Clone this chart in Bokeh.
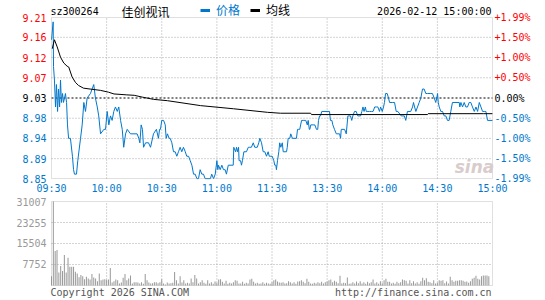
from bokeh.plotting import figure
from bokeh.layouts import column
from bokeh.models import (Range1d, Label, LabelSet, ColumnDataSource,
                          Legend, LegendItem, BoxAnnotation)
from bokeh.core.properties import value
from bokeh.embed import file_html
from bokeh.resources import INLINE

# ---------------- data ----------------
stock_code = "sz300264"
stock_name = "佳创视讯"
timestamp = "2026-02-12 15:00:00"
prev_close = 9.03
pct_limit = 1.99

# minutes since 09:30 (trading minutes, 0..240)
price_t = [0, 0.9, 1.1, 1.6, 2.2, 2.7, 3.3, 3.8, 4.4, 4.9, 5.4, 6.0, 6.5, 7.1, 7.6, 8.2, 8.7, 9.3, 10.3, 11.4,
           12.0, 12.5, 13.6, 14.3, 15.8, 16.7, 17.6, 18.5, 19.4, 21.2, 22.1, 23.0, 23.9, 24.9, 25.7, 26.7, 28.5,
           29.4, 30.3, 31.2, 32.1, 33.0, 33.9, 34.8, 35.8, 36.6, 37.6, 38.5, 39.3, 40.3, 41.2, 43.0, 46.6, 47.5,
           48.1, 48.8, 49.5, 50.1, 51.2, 52.8, 53.9, 55.5, 57.1, 58.2, 58.8, 59.3, 60.0, 61.0, 61.9, 62.4, 63.1,
           64.0, 64.6, 65.5, 66.4, 67.3, 68.2, 69.1, 70.0, 70.9, 71.8, 72.8, 73.6, 74.6, 75.5, 76.4, 77.3, 78.2,
           79.1, 80.0, 80.9, 81.8, 82.7, 83.6, 86.5, 87.2, 88.2, 89.1, 90.0, 90.5, 90.9, 91.8, 92.7, 93.6, 94.5,
           95.2, 96.2, 98.9, 99.2, 100.2, 100.7, 101.2, 101.8, 102.1, 102.9, 103.4, 103.9, 104.7, 106.1, 107.1,
           107.9, 108.8, 109.8, 110.6, 112.0, 112.8, 113.4, 114.3, 115.2, 116.1, 117.0, 117.9, 118.5, 119.4,
           120.1, 121.0, 121.5, 122.1, 122.4, 123.0, 123.7, 124.2, 124.8, 125.6, 126.1, 127.9, 128.3, 128.8,
           129.7, 130.2, 131.1, 133.3, 133.9, 134.6, 135.1, 136.1, 137.0, 137.9, 138.4, 139.2, 139.7, 140.3,
           140.6, 141.1, 142.4, 143.3, 144.2, 144.9, 145.3, 145.9, 146.4, 147.1, 151.3, 151.8, 152.6, 153.1,
           154.0, 155.0, 155.9, 156.8, 157.3, 157.7, 159.5, 160.4, 161.3, 161.8, 162.7, 163.4, 164.0, 164.9,
           165.8, 166.7, 168.2, 168.9, 169.5, 170.1, 170.8, 171.3, 172.2, 173.1, 174.1, 175.0, 175.9, 176.8,
           177.6, 178.5, 179.1, 180.0, 180.7, 181.2, 181.8, 182.7, 183.4, 184.0, 185.7, 186.7, 187.6, 188.5,
           190.3, 191.2, 192.0, 192.8, 193.7, 195.5, 196.5, 197.0, 197.6, 198.3, 199.2, 200.1, 201.0, 201.9,
           202.8, 203.7, 204.6, 206.4, 207.3, 208.3, 209.1, 209.7, 210.1, 210.5, 211.0, 211.9, 212.8, 213.7,
           214.6, 215.5, 216.4, 217.3, 218.2, 221.9, 222.2, 222.8, 223.7, 224.6, 225.5, 226.4, 227.3, 228.2,
           229.1, 230.1, 231.0, 231.9, 232.8, 233.7, 234.6, 235.5, 236.4, 237.3, 240]
price_v = [9.16, 9.20, 9.10, 9.07, 9.01, 9.06, 9.00, 9.05, 9.01, 9.07, 9.02, 9.04, 9.02, 9.03, 9.04, 9.02, 8.97,
           8.94, 8.94, 8.90, 8.87, 8.86, 8.86, 8.89, 8.94, 8.97, 9.02, 9.00, 9.03, 9.04, 9.05, 9.06, 9.03, 9.01,
           8.99, 8.95, 8.96, 8.96, 9.00, 8.97, 8.99, 8.98, 9.00, 9.01, 9.00, 9.01, 8.98, 8.96, 8.92, 8.95, 8.96,
           8.95, 8.95, 8.94, 8.93, 8.97, 8.96, 8.92, 8.93, 8.93, 8.92, 8.95, 8.96, 8.94, 8.96, 8.96, 8.98, 8.98,
           8.97, 8.94, 8.95, 8.94, 8.94, 8.93, 8.91, 8.91, 8.90, 8.91, 8.92, 8.91, 8.92, 8.91, 8.90, 8.90, 8.89,
           8.88, 8.86, 8.86, 8.85, 8.85, 8.87, 8.86, 8.86, 8.85, 8.85, 8.86, 8.85, 8.86, 8.89, 8.87, 8.88, 8.87,
           8.88, 8.87, 8.87, 8.86, 8.88, 8.88, 8.92, 8.91, 8.92, 8.91, 8.92, 8.89, 8.89, 8.88, 8.89, 8.91, 8.91,
           8.92, 8.92, 8.92, 8.93, 8.92, 8.92, 8.93, 8.94, 8.93, 8.91, 8.91, 8.90, 8.91, 8.90, 8.90, 8.90, 8.89,
           8.88, 8.88, 8.87, 8.89, 8.91, 8.93, 8.92, 8.93, 8.91, 8.91, 8.92, 8.94, 8.94, 8.95, 8.94, 8.94, 8.96,
           8.96, 8.96, 8.98, 8.98, 8.98, 8.98, 8.97, 8.98, 8.96, 8.96, 8.97, 8.97, 8.97, 8.96, 8.96, 8.98, 8.99,
           8.99, 9.00, 9.00, 8.98, 8.98, 8.97, 8.96, 8.95, 8.95, 8.95, 8.94, 8.96, 8.96, 8.95, 8.99, 8.99, 8.99,
           8.98, 8.99, 9.00, 9.00, 8.99, 8.99, 9.00, 9.01, 9.00, 9.01, 9.00, 9.00, 9.00, 9.00, 9.00, 9.01, 9.01,
           9.01, 9.00, 9.01, 9.00, 9.01, 9.02, 9.04, 9.04, 9.03, 9.02, 9.02, 9.02, 9.00, 9.00, 8.99, 8.99, 8.99,
           8.98, 9.00, 9.00, 9.01, 9.02, 9.01, 9.00, 9.01, 9.02, 9.03, 9.05, 9.05, 9.04, 9.04, 9.04, 9.04, 9.03,
           9.02, 9.03, 9.04, 9.02, 9.01, 9.00, 9.00, 8.99, 8.99, 8.98, 8.98, 9.00, 9.02, 9.02, 9.01, 9.02, 9.01,
           9.02, 9.01, 9.01, 9.02, 9.02, 9.01, 9.00, 9.01, 9.00, 9.02, 9.01, 9.00, 9.00, 9.00, 8.98, 8.98]

avg_t = [0.4, 1.6, 3.1, 4.9, 6.7, 8.5, 9.4, 10.3, 11.2, 13.0, 14.7, 17.4, 21.0, 26.7, 31.0, 34.0, 41.0, 45.0,
         49.4, 55.5, 63.1, 81.1, 99.0, 117.6, 124.6, 141.0, 141.5, 204.6, 205.0, 235.0, 240.0]
avg_v = [9.140, 9.160, 9.144, 9.121, 9.108, 9.101, 9.099, 9.088, 9.077, 9.065, 9.058, 9.052, 9.050, 9.047,
         9.043, 9.039, 9.037, 9.036, 9.032, 9.027, 9.024, 9.013, 9.006, 8.998, 8.996, 8.996, 8.993, 8.993,
         8.995, 8.995, 8.995]

# volume per trading minute (lots)
volume = [3460, 31007, 12720, 13090, 4820, 7170, 5310, 11240, 4820, 10250, 6920, 6920, 6920, 5070, 4450,
          3090, 3830, 3460, 2350, 3210, 2590, 2220, 4200, 2970, 2590, 1610, 4450, 1980, 2220, 2350, 2100,
          2200, 6420, 1110, 1610, 2220, 1980, 740, 1110, 2840, 4200, 1980, 2590, 3710, 740, 1240, 1240, 1110,
          740, 1240, 620, 4200, 1980, 1110, 740, 860, 1240, 1240, 860, 1240, 2350, 740, 370, 1110, 740, 860,
          990, 4940, 1980, 740, 3460, 1110, 1980, 740, 990, 740, 2590, 1240, 3830, 2590, 740, 1240,
          1980, 990, 620, 1980, 740, 1240, 620, 1480, 990, 2220, 2350, 1360, 740, 1730, 620, 990, 740, 1240,
          1980, 1730, 740, 740, 1360, 620, 990, 740, 2220, 2470, 1360, 740, 990, 620, 740, 1240, 620, 990,
          740, 620, 1240, 1980, 2220, 1480, 1110, 990, 1240, 740, 860, 1600, 1240, 740, 1240, 620, 1480,
          1600, 1980, 1360, 860, 2470, 1360, 740, 620, 990, 740, 1240, 860, 1360, 740, 1240, 1480, 1980,
          2220, 1240, 1730, 1360, 860, 3580, 740, 990, 860, 2960, 620, 740, 1240, 740, 1480, 860, 1600,
          740, 1240, 620, 1360, 860, 1240, 2220, 740, 1240, 620, 1600, 860, 1980, 2470, 1360, 1360, 740,
          990, 620, 1360, 860, 1240, 2220, 1980, 1730, 740, 1980, 860, 1600, 740, 1240, 620, 1600, 2840,
          1980, 2720, 1360, 1240, 860, 1980, 740, 990, 1980, 1730, 1980, 860, 1480, 740, 3210, 1980, 1360,
          1730, 1730, 1980, 1980, 1730, 1360, 1480, 990, 1600, 2470, 2840, 3580, 2470, 2220, 3460, 3710,
          3710, 3710, 3460]
vol_t = list(range(len(volume)))

time_ticks = [0, 30, 60, 90, 120, 150, 180, 210, 240]
time_labels = ["09:30", "10:00", "10:30", "11:00", "11:30", "13:30", "14:00", "14:30", "15:00"]

pct_ticks = [1.99, 1.50, 1.00, 0.50, 0.00, -0.50, -1.00, -1.50, -1.99]
pct_labels = ["+1.99%", "+1.50%", "+1.00%", "+0.50%", "0.00%", "-0.50%", "-1.00%", "-1.50%", "-1.99%"]
price_labels = ["9.21", "9.16", "9.12", "9.07", "9.03", "8.98", "8.94", "8.89", "8.85"]

vol_ticks = [7752, 15504, 23255, 31007]
vol_labels = ["7752", "15504", "23255", "31007"]

# ---------------- layout / styles ----------------
BLUE = "#0077cc"
RED = "#ff0000"
GRID = "#a8a8a8"
FRAME = "#999999"
MONO = "DejaVu Sans Mono"
CJK = "Noto Sans CJK SC"
W, H = 545, 300
PL, PR = 51, 492          # chart panel left / right pixel
PT, PB = 17, 178          # price panel top / bottom pixel
VT, VB = 201, 285         # volume panel top / bottom pixel
H1 = 195                  # height of upper figure (price panel + time labels)
H2 = H - H1


def up1(py):   # canvas pixel row -> screen offset above bottom of upper figure
    return H1 - py


def up2(py):   # canvas pixel row -> screen offset above bottom of lower figure
    return H - py


lo = prev_close * (1 - pct_limit / 100)
hi = prev_close * (1 + pct_limit / 100)
t0, t1 = time_ticks[0], time_ticks[-1]
kx = (t1 - t0) / (PR - PL)
x_rng = Range1d(t0 - PL * kx, t1 + (W - PR) * kx)

ky = (hi - lo) / (PB - PT)
p = figure(width=W, height=H1, x_range=x_rng,
           y_range=Range1d(lo - (H1 - PB) * ky, hi + PT * ky),
           output_backend="svg", toolbar_location=None, x_axis_location=None, y_axis_location=None,
           min_border_left=0, min_border_right=0, min_border_top=0, min_border_bottom=0,
           background_fill_color="white", border_fill_color="white")
p.outline_line_color = None
p.grid.visible = False

tick_prices = [prev_close * (1 + q / 100) for q in pct_ticks]
tick_colors = [RED if q > 0 else ("black" if q == 0 else BLUE) for q in pct_ticks]
inner_prices = [y for y, q in zip(tick_prices, pct_ticks) if q != 0 and abs(q) < pct_limit]
inner_times = time_ticks[1:-1]

# grid
p.segment(x0=inner_times, y0=[lo] * len(inner_times), x1=inner_times, y1=[hi] * len(inner_times),
          line_color=GRID, line_dash="1 2", line_width=1)
p.segment(x0=[t0] * len(inner_prices), y0=inner_prices, x1=[t1] * len(inner_prices), y1=inner_prices,
          line_color=GRID, line_dash="1 2", line_width=1)
p.segment(x0=[t0], y0=[prev_close], x1=[t1], y1=[prev_close], line_color="black", line_dash="2 2",
          line_width=1)
p.add_layout(BoxAnnotation(left=t0, right=t1, bottom=lo, top=hi, fill_alpha=0,
                           line_color=FRAME, line_width=1))

price_r = p.line(price_t, price_v, line_color=BLUE, line_width=1)
avg_r = p.line(avg_t, avg_v, line_color="black", line_width=1)

# price axis labels (left), percent axis labels (right), time labels (below)
left_src = ColumnDataSource(dict(y=tick_prices, text=price_labels, color=tick_colors))
p.add_layout(LabelSet(source=left_src, x=PL - 5, x_units="screen", y="y", text="text",
                      text_color="color", text_align="right", text_baseline="middle",
                      text_font=value(MONO), text_font_size="10px"))
right_src = ColumnDataSource(dict(y=tick_prices, text=pct_labels, color=tick_colors))
p.add_layout(LabelSet(source=right_src, x=PR + 2, x_units="screen", y="y", text="text",
                      text_color="color", text_align="left", text_baseline="middle",
                      text_font=value(MONO), text_font_size="10px"))
time_src = ColumnDataSource(dict(x=time_ticks, text=time_labels))
p.add_layout(LabelSet(source=time_src, x="x", y=up1(188), y_units="screen", text="text",
                      text_color=BLUE, text_align="center", text_baseline="middle",
                      text_font=value(MONO), text_font_size="10px"))

# header row
hy = up1(11)
p.add_layout(Label(x=50, y=hy, x_units="screen", y_units="screen", text=stock_code,
                   text_font=MONO, text_font_size="10px", text_color="black",
                   text_baseline="middle", text_align="left"))
p.add_layout(Label(x=145, y=hy, x_units="screen", y_units="screen", text=stock_name,
                   text_font=CJK, text_font_size="12px", text_color="black",
                   text_baseline="middle", text_align="center"))
p.add_layout(Label(x=491, y=hy, x_units="screen", y_units="screen", text=timestamp,
                   text_font=MONO, text_font_size="10px", text_color="black",
                   text_baseline="middle", text_align="right"))

# legend keys: single-point helper lines so the key strokes can be drawn thick
leg_a = p.line(x=price_t[-1:], y=price_v[-1:], line_color=BLUE, line_width=3)
leg_b = p.line(x=avg_t[-1:], y=avg_v[-1:], line_color="black", line_width=3)
for rend, lab, col, lx in [(leg_a, "价格", BLUE, 200), (leg_b, "均线", "black", 250)]:
    lg = Legend(items=[LegendItem(label=lab, renderers=[rend])], location=(lx, up1(18)),
                orientation="horizontal", border_line_color=None, background_fill_alpha=0,
                padding=0, margin=0, glyph_width=10, glyph_height=14, label_standoff=6,
                label_height=14, spacing=0, label_text_font=CJK, label_text_font_size="12px",
                label_text_color=col)
    p.add_layout(lg)

p.add_layout(Label(x=474, y=up1(166), x_units="screen", y_units="screen", text="sina",
                   text_font="DejaVu Sans", text_font_style="bold italic", text_font_size="17px",
                   text_color="#d9cccc", text_align="center", text_baseline="middle"))

# ---------------- volume panel ----------------
vtop = max(vol_ticks)
kv = vtop / (VB - VT)
v = figure(width=W, height=H2, x_range=x_rng,
           y_range=Range1d(-(H - VB) * kv, vtop + (VT - H1) * kv),
           output_backend="svg", toolbar_location=None, x_axis_location=None, y_axis_location=None,
           min_border_left=0, min_border_right=0, min_border_top=0, min_border_bottom=0,
           background_fill_color="white", border_fill_color="white")
v.outline_line_color = None
v.grid.visible = False
v.segment(x0=inner_times, y0=[0] * len(inner_times), x1=inner_times, y1=[vtop] * len(inner_times),
          line_color=GRID, line_dash="1 2", line_width=1)
v.segment(x0=[t0] * 3, y0=vol_ticks[:-1], x1=[t1] * 3, y1=vol_ticks[:-1],
          line_color=GRID, line_dash="1 2", line_width=1)
v.vbar(x=vol_t, top=volume, width=0.55, fill_color="#999999", line_color=None)
v.add_layout(BoxAnnotation(left=t0, right=t1, bottom=0, top=vtop, fill_alpha=0,
                           line_color=FRAME, line_width=1))

vol_src = ColumnDataSource(dict(y=vol_ticks, text=vol_labels))
v.add_layout(LabelSet(source=vol_src, x=PL - 5, x_units="screen", y="y", text="text",
                      text_color="#999999", text_align="right", text_baseline="middle",
                      text_font=value(MONO), text_font_size="10px"))

v.add_layout(Label(x=50, y=up2(292), x_units="screen", y_units="screen",
                   text="Copyright 2026 SINA.COM",
                   text_font=MONO, text_font_size="10px", text_color="#555555",
                   text_baseline="middle", text_align="left"))
v.add_layout(Label(x=491, y=up2(292), x_units="screen", y_units="screen",
                   text="http://finance.sina.com.cn",
                   text_font=MONO, text_font_size="10px", text_color="#555555",
                   text_baseline="middle", text_align="right"))

layout = column(p, v, spacing=0)
open("out.html", "w", encoding="utf-8").write(file_html(layout, INLINE, "佳创视讯"))
